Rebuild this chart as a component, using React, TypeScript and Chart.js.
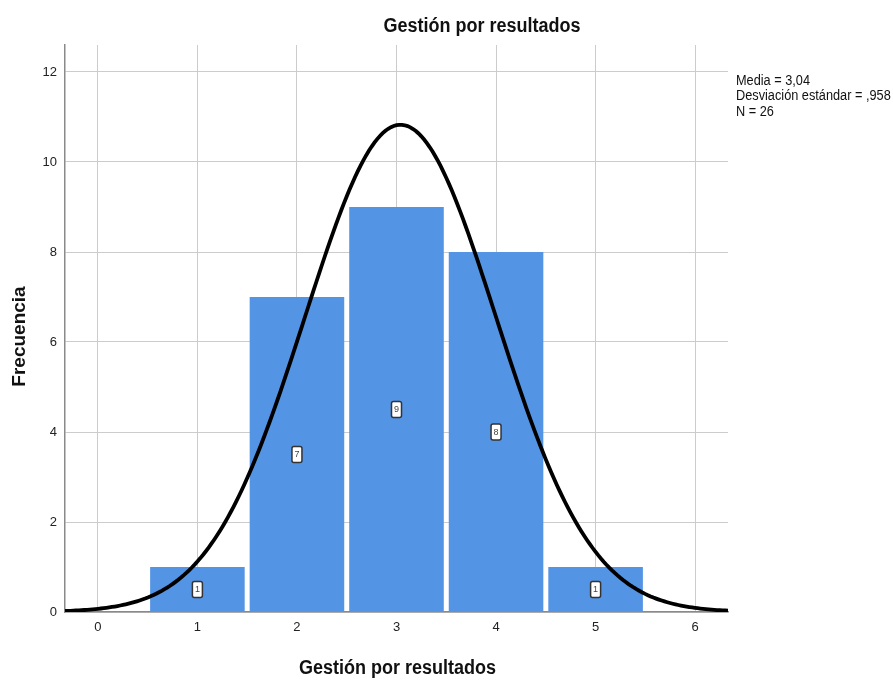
import React, { useEffect, useRef } from "react";
import { Chart, registerables } from "chart.js";

Chart.register(...registerables);

// Histogram data
const binCenters = [1, 2, 3, 4, 5];
const frequencies = [1, 7, 9, 8, 1];
const xTickValues = [0, 1, 2, 3, 4, 5, 6];
const yTickValues = [0, 2, 4, 6, 8, 10, 12];

// Summary statistics shown in the legend and used for the normal curve
const media = 3.04;
const desviacion = 0.958;
const n = 26;
const binWidth = 1;

const titulo = "Gestión por resultados";
const tituloX = "Gestión por resultados";
const tituloY = "Frecuencia";
const statsLines = ["Media = 3,04", "Desviación estándar = ,958", "N = 26"];

const X_MIN = -0.33;
const X_MAX = 6.33;
const Y_MAX = 12.6;

const SANS = '"Liberation Sans", Arial, sans-serif';

function normalCurve(): { x: number; y: number }[] {
  const pts: { x: number; y: number }[] = [];
  const steps = 240;
  for (let i = 0; i <= steps; i++) {
    const x = X_MIN + ((X_MAX - X_MIN) * i) / steps;
    const z = (x - media) / desviacion;
    const y = (n * binWidth * Math.exp(-0.5 * z * z)) / (desviacion * Math.sqrt(2 * Math.PI));
    pts.push({ x, y });
  }
  return pts;
}

// Draws text squeezed horizontally to imitate a condensed face
function narrowText(
  ctx: CanvasRenderingContext2D,
  text: string,
  x: number,
  y: number,
  squeeze: number,
  align: CanvasTextAlign
) {
  ctx.save();
  ctx.translate(x, y);
  ctx.scale(squeeze, 1);
  ctx.textAlign = align;
  ctx.fillText(text, 0, 0);
  ctx.restore();
}

const annotations = {
  id: "annotations",
  afterDatasetsDraw(chart: any) {
    const ctx = chart.ctx as CanvasRenderingContext2D;
    // value boxes at mid height of each bar
    const meta = chart.getDatasetMeta(1);
    const yScale = chart.scales.y;
    ctx.save();
    meta.data.forEach((bar: any, i: number) => {
      const v = frequencies[i];
      const cx = bar.x;
      const cy = yScale.getPixelForValue(v / 2);
      const w = 10;
      const h = 16;
      ctx.beginPath();
      ctx.roundRect(cx - w / 2, cy - h / 2, w, h, 2);
      ctx.fillStyle = "#ffffff";
      ctx.fill();
      ctx.lineWidth = 1.5;
      ctx.strokeStyle = "#333333";
      ctx.stroke();
      ctx.fillStyle = "#444444";
      ctx.font = `9px ${SANS}`;
      ctx.textAlign = "center";
      ctx.textBaseline = "middle";
      ctx.fillText(String(v), cx, cy + 0.5);
    });
    ctx.restore();
  },
  afterDraw(chart: any) {
    const ctx = chart.ctx as CanvasRenderingContext2D;
    const area = chart.chartArea;
    ctx.save();
    ctx.fillStyle = "#111111";
    ctx.textBaseline = "middle";
    // main title
    ctx.font = `bold 20px ${SANS}`;
    narrowText(ctx, titulo, 482, 26, 0.9, "center");
    // x-axis title
    narrowText(ctx, tituloX, (area.left + area.right) / 2 + 1, 668, 0.9, "center");
    // y-axis title
    ctx.save();
    ctx.translate(20, (area.top + area.bottom) / 2 + 8);
    ctx.rotate(-Math.PI / 2);
    ctx.font = `bold 19px ${SANS}`;
    ctx.textAlign = "center";
    ctx.fillText(tituloY, 0, 0);
    ctx.restore();
    // statistics
    ctx.font = `14px ${SANS}`;
    statsLines.forEach((s, i) => narrowText(ctx, s, 736, 81 + i * 15.5, 0.91, "left"));
    ctx.restore();
  },
};

export default function App() {
  const ref = useRef<HTMLCanvasElement | null>(null);

  useEffect(() => {
    if (!ref.current) return;
    const chart = new Chart(ref.current, {
      type: "bar",
      data: {
        datasets: [
          {
            type: "line",
            data: normalCurve(),
            borderColor: "#000000",
            borderWidth: 3.8,
            pointRadius: 0,
            tension: 0,
            fill: false,
            order: 0,
          },
          {
            type: "bar",
            data: binCenters.map((x, i) => ({ x, y: frequencies[i] })),
            backgroundColor: "#5494e4",
            borderWidth: 0,
            barPercentage: 0.95,
            categoryPercentage: 1,
            order: 1,
          },
        ] as any,
      },
      options: {
        animation: false,
        responsive: false,
        maintainAspectRatio: false,
        layout: { padding: { top: 45, right: 165, left: 0, bottom: 0 } },
        plugins: { legend: { display: false }, tooltip: { enabled: false }, title: { display: false } },
        scales: {
          x: {
            type: "linear",
            min: X_MIN,
            max: X_MAX,
            offset: false,
            afterBuildTicks: (s: any) => {
              s.ticks = xTickValues.map((v) => ({ value: v }));
            },
            afterFit: (s: any) => {
              s.height = 72;
            },
            grid: { color: "#cccccc", lineWidth: 1, offset: false, tickLength: 0 },
            border: { color: "#8a8a8a", width: 1.5 },
            ticks: { color: "#222222", font: { family: SANS, size: 13 }, padding: 8 },
          },
          y: {
            min: 0,
            max: Y_MAX,
            afterBuildTicks: (s: any) => {
              s.ticks = yTickValues.map((v) => ({ value: v }));
            },
            afterFit: (s: any) => {
              s.width = 65;
            },
            grid: { color: "#cccccc", lineWidth: 1, tickLength: 0 },
            border: { color: "#8a8a8a", width: 1.5 },
            ticks: { color: "#222222", font: { family: SANS, size: 13 }, padding: 8 },
          },
        },
      } as any,
      plugins: [annotations],
    });
    return () => chart.destroy();
  }, []);

  return (
    <div style={{ position: "fixed", left: 0, top: 0, width: 893, height: 684, background: "#fff" }}>
      <canvas ref={ref} width={893} height={684} style={{ display: "block" }} />
    </div>
  );
}
